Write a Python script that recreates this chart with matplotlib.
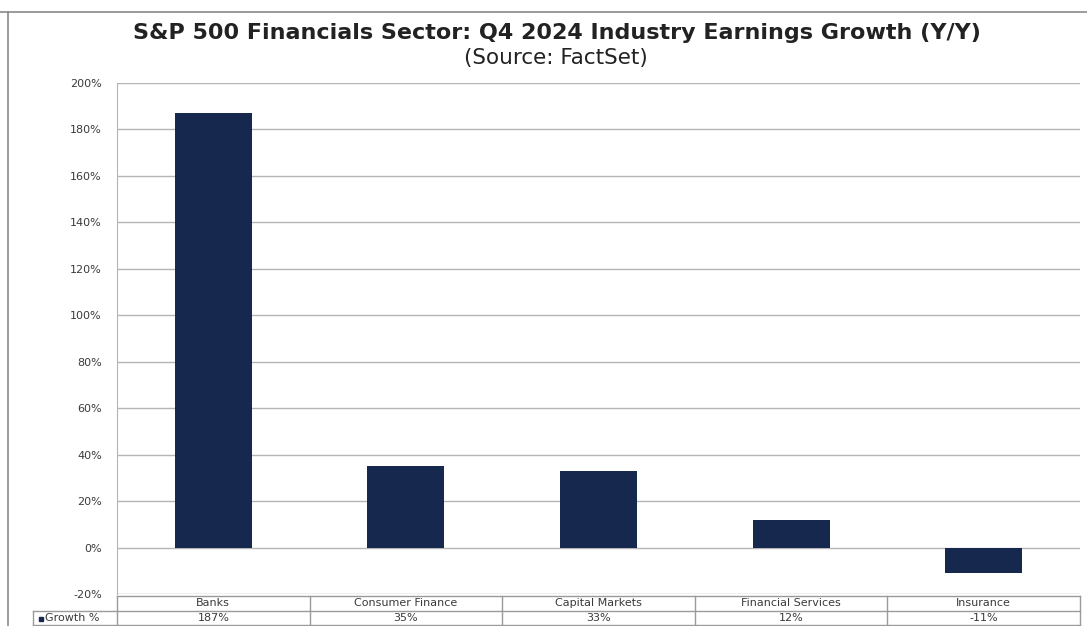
import matplotlib.pyplot as plt
from matplotlib.patches import Rectangle
from matplotlib.lines import Line2D

plt.rcParams['font.family'] = ['DejaVu Sans']

# Industry earnings growth, Q4 2024 (percent, Y/Y)
industries = ['Banks', 'Consumer Finance', 'Capital Markets',
              'Financial Services', 'Insurance']
growth = [187, 35, 33, 12, -11]
yticks = list(range(-20, 201, 20))

W, H = 1087, 626
bar_color = '#17284f'
grid_color = '#b5b5b5'
text_color = '#3a3a3a'

fig = plt.figure(figsize=(W / 100, H / 100), dpi=100)

def fx(px):
    return px / W

def fy(py):
    return 1 - py / H

# plot area in pixel terms
left, right, top, bottom = 117, 1080, 83, 594
ax = fig.add_axes([fx(left), fy(bottom), fx(right - left), fy(top) - fy(bottom)])

x = range(len(industries))
ax.bar(x, growth, width=0.4, color=bar_color, zorder=3)
ax.set_xlim(-0.5, len(industries) - 0.5)
ax.set_ylim(-20, 200)
ax.set_yticks(yticks)
ax.set_yticklabels(['%d%%' % v for v in yticks], fontsize=8, color=text_color)
ax.set_xticks([])
ax.tick_params(axis='y', length=0, pad=11)
ax.grid(axis='y', color=grid_color, linewidth=1, zorder=0)
for side in ['top', 'right', 'bottom']:
    ax.spines[side].set_visible(False)
ax.spines['left'].set_color(grid_color)

# titles
fig.text(fx(557), fy(33), 'S&P 500 Financials Sector: Q4 2024 Industry Earnings Growth (Y/Y)',
         ha='center', va='center', fontsize=16, fontweight='bold', color='#222222')
fig.text(fx(556), fy(58), '(Source: FactSet)', ha='center', va='center',
         fontsize=15.5, color='#222222')

# outer frame of the chart
fig.add_artist(Line2D([fx(0), fx(1087)], [fy(12), fy(12)], color='#8a8a8a', lw=1.2))
fig.add_artist(Line2D([fx(8), fx(8)], [fy(12), fy(626)], color='#8a8a8a', lw=1.2))

# data table under the plot
row1_top, row2_top, row2_bot = 596, 611, 625
col_w = (right - left) / len(industries)
line_kw = dict(color='#9a9a9a', lw=1)
fig.add_artist(Line2D([fx(left), fx(right)], [fy(row1_top), fy(row1_top)], **line_kw))
fig.add_artist(Line2D([fx(33), fx(right)], [fy(row2_top), fy(row2_top)], **line_kw))
fig.add_artist(Line2D([fx(33), fx(right)], [fy(row2_bot), fy(row2_bot)], **line_kw))
fig.add_artist(Line2D([fx(33), fx(33)], [fy(row2_top), fy(row2_bot)], **line_kw))
for i in range(len(industries) + 1):
    cx = left + i * col_w
    fig.add_artist(Line2D([fx(cx), fx(cx)], [fy(row1_top), fy(row2_bot)], **line_kw))

for i, (name, val) in enumerate(zip(industries, growth)):
    cx = left + (i + 0.5) * col_w
    fig.text(fx(cx), fy((row1_top + row2_top) / 2), name, ha='center', va='center',
             fontsize=8, color=text_color)
    fig.text(fx(cx), fy((row2_top + row2_bot) / 2), '%d%%' % val, ha='center',
             va='center', fontsize=8, color=text_color)

fig.add_artist(Rectangle((fx(39), fy(620.5)), fx(4), fy(616.5) - fy(620.5),
                         color=bar_color))
fig.text(fx(45), fy((row2_top + row2_bot) / 2), 'Growth %', ha='left', va='center',
         fontsize=8, color=text_color)

fig.savefig('out.png', dpi=100)
